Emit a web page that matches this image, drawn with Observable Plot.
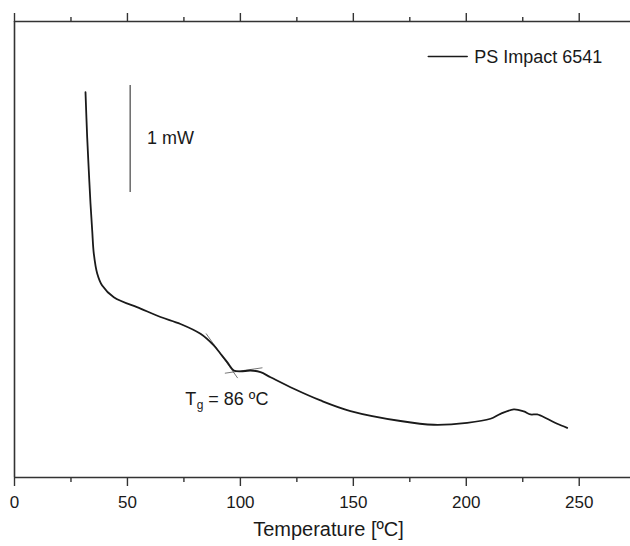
<!DOCTYPE html>
<html><head><meta charset="utf-8">
<script src="https://cdn.jsdelivr.net/npm/d3@7"></script>
<script src="https://cdn.jsdelivr.net/npm/@observablehq/plot@0.6"></script>
<style>
body{margin:0;background:#fff}
#chart svg{font-family:"Liberation Sans",Arial,sans-serif;background:#fff}
</style></head><body><div id="chart"></div>
<script>
// DSC curve: temperature (°C) vs heat flow (mW, arbitrary offset)
const temperature = [31.43, 32.18, 32.89, 33.64, 34.40, 35.11, 36.61, 38.82, 43.96, 55.78, 64.63, 73.49, 82.34, 88.23, 91.20, 94.16, 97.08, 100.05, 104.48, 108.90, 113.33, 123.65, 135.46, 148.75, 170.88, 185.62, 200.41, 210.72, 215.15, 221.04, 225.47, 228.43, 231.39, 235.82, 240.25, 244.67];
const heatFlow = [3.601, 3.178, 2.869, 2.561, 2.308, 2.093, 1.907, 1.794, 1.685, 1.579, 1.500, 1.435, 1.343, 1.234, 1.156, 1.078, 1.000, 0.991, 1.000, 0.984, 0.937, 0.829, 0.720, 0.621, 0.528, 0.493, 0.511, 0.549, 0.595, 0.636, 0.617, 0.589, 0.589, 0.549, 0.502, 0.464];

const seriesName = "PS Impact 6541";
const xLabel = "Temperature [ºC]";
const majorTicks = [0, 50, 100, 150, 200, 250];
const minorTicks = [25, 75, 125, 175, 225];

// Tangent construction lines at the glass transition
const tangentUpperT = [84.9, 98.7];
const tangentUpperV = [1.343, 0.932];
const tangentLowerT = [93.3, 109.6];
const tangentLowerV = [0.975, 1.025];

// 1 mW scale bar
const scaleBarT = 51.2;
const scaleBarV = [2.664, 3.664];
const scaleBarLabel = "1 mW";
const scaleLabelPos = {T: 58.7, v: 3.173};

// Tg annotation
const tgValue = 86;
const tgPos = {T: 75.6, v: 0.727};

// legend placement
const legendLineT = [183.2, 200.4];
const legendV = 3.935;
const legendTextT = 203.5;

const xMax = 272.7, yMax = 4.2617;

const data = temperature.map((t, i) => ({T: t, v: heatFlow[i]}));
const toPts = (ts, vs) => ts.map((t, i) => ({T: t, v: vs[i]}));

const axisStroke = "#333";
const ink = "#1a1a1a";
const font = "Liberation Sans, Arial, sans-serif";

const chart = Plot.plot({
  width: 630,
  height: 546,
  marginLeft: 14,
  marginRight: 0,
  marginTop: 21,
  marginBottom: 69,
  style: {fontFamily: font, fontSize: "17px", color: ink, background: "#fff"},
  x: {domain: [0, xMax]},
  y: {domain: [0, yMax], axis: null},
  marks: [
    Plot.axisX({anchor: "bottom", ticks: majorTicks, tickSize: 9, tickPadding: 9, fontSize: 17, label: null, stroke: axisStroke, strokeWidth: 1.4, fill: ink}),
    Plot.axisX({anchor: "bottom", ticks: minorTicks, tickSize: 5, text: null, label: null, stroke: axisStroke, strokeWidth: 1.4}),
    Plot.axisX({anchor: "top", ticks: majorTicks, tickSize: 9, text: null, label: null, stroke: axisStroke, strokeWidth: 1.4}),
    Plot.axisX({anchor: "top", ticks: minorTicks, tickSize: 5, text: null, label: null, stroke: axisStroke, strokeWidth: 1.4}),
    Plot.ruleY([0], {stroke: axisStroke, strokeWidth: 1.6}),
    Plot.ruleY([yMax], {stroke: axisStroke, strokeWidth: 1.6}),
    Plot.ruleX([0], {stroke: axisStroke, strokeWidth: 1.6}),
    Plot.text([xLabel], {frameAnchor: "bottom", dy: 58, dx: 6, fontSize: 20, fill: ink}),
    // tangents
    Plot.line(toPts(tangentUpperT, tangentUpperV), {x: "T", y: "v", stroke: "#555", strokeWidth: 0.8}),
    Plot.line(toPts(tangentLowerT, tangentLowerV), {x: "T", y: "v", stroke: "#555", strokeWidth: 0.8}),
    // curve
    Plot.line(data, {x: "T", y: "v", curve: "catmull-rom", stroke: ink, strokeWidth: 1.8}),
    // scale bar
    Plot.ruleX([scaleBarT], {y1: scaleBarV[0], y2: scaleBarV[1], stroke: "#444", strokeWidth: 1.2}),
    Plot.text([scaleBarLabel], {x: () => scaleLabelPos.T, y: () => scaleLabelPos.v, textAnchor: "start", fontSize: 18, fill: ink}),
    // Tg label
    Plot.text(["T"], {x: () => tgPos.T, y: () => tgPos.v, textAnchor: "start", fontSize: 18, fill: ink}),
    Plot.text(["g"], {x: () => tgPos.T, y: () => tgPos.v, dx: 11.5, dy: 5, textAnchor: "start", fontSize: 12, fill: ink}),
    Plot.text([`= ${tgValue} ºC`], {x: () => tgPos.T, y: () => tgPos.v, dx: 23, textAnchor: "start", fontSize: 18, fill: ink}),
    // legend
    Plot.line(legendLineT.map(t => ({T: t, v: legendV})), {x: "T", y: "v", stroke: ink, strokeWidth: 1.6}),
    Plot.text([seriesName], {x: () => legendTextT, y: () => legendV, dy: 0.8, textAnchor: "start", fontSize: 18, fill: ink})
  ]
});
document.getElementById("chart").appendChild(chart);
</script>
</body></html>
